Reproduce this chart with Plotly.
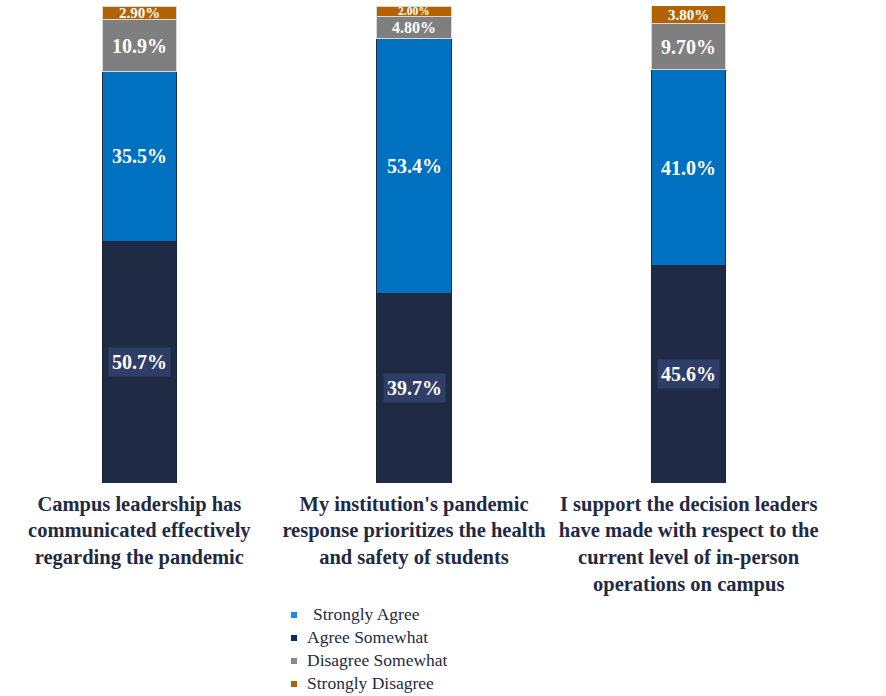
import plotly.graph_objects as go

# Survey statements (x-axis categories)
statements = [
    "Campus leadership has<br>communicated effectively<br>regarding the pandemic",
    "My institution's pandemic<br>response prioritizes the health<br>and safety of students",
    "I support the decision leaders<br>have made with respect to the<br>current level of in-person<br>operations on campus",
]

# Percentages as printed, stacked bottom to top
agree_somewhat = ["50.7", "39.7", "45.6"]
strongly_agree = ["35.5", "53.4", "41.0"]
disagree_somewhat = ["10.9", "4.80", "9.70"]
strongly_disagree = ["2.90", "2.00", "3.80"]

# Legend entries, in display order
legend_names = ["Strongly Agree", "Agree Somewhat", "Disagree Somewhat", "Strongly Disagree"]
legend_colors = ["#1e88e5", "#0d2b66", "#888888", "#b36200"]

SERIF = "Liberation Serif, Times New Roman, serif"
NAVY = "#1f2a44"

W, H = 886, 696
M = dict(l=2, r=60, t=6, b=213)
PW = W - M["l"] - M["r"]
PH = H - M["t"] - M["b"]


def px_x(px):
    return (px - M["l"]) / PW


def px_y(py):
    return (H - M["b"] - py) / PH


series = [
    ("Agree Somewhat", agree_somewhat, "#1f2a44", "#2f3e66", "#1a2235"),
    ("Strongly Agree", strongly_agree, "#0070c0", None, "#1f2a44"),
    ("Disagree Somewhat", disagree_somewhat, "#7f7f7f", None, "#d8d8d8"),
    ("Strongly Disagree", strongly_disagree, "#b36200", None, "#d8d8d8"),
]

fig = go.Figure()
annotations = []
shapes = []
base = [0.0] * len(statements)
for name, vals, color, label_bg, edge in series:
    nums = [float(v) for v in vals]
    fig.add_trace(go.Bar(
        x=list(range(len(statements))),
        y=nums,
        name=name,
        marker=dict(color=color, line=dict(color=edge, width=1)),
        showlegend=False,
        hoverinfo="skip",
    ))
    for i, (v, n) in enumerate(zip(vals, nums)):
        if n <= 2.5:
            size = 11.5
        elif n <= 4:
            size = 15
        elif n <= 6:
            size = 16
        else:
            size = 20
        annotations.append(dict(
            x=i, y=base[i] + n / 2, xref="x", yref="y",
            text=f"<b>{v}%</b>", showarrow=False,
            font=dict(family=SERIF, size=size, color="white"),
            bgcolor=label_bg, borderpad=3 if label_bg else 0,
        ))
        base[i] += n

# Legend drawn as small squares with labels
leg_y = [615, 638, 661, 684]
for k, (nm, col) in enumerate(zip(legend_names, legend_colors)):
    cy = leg_y[k]
    shapes.append(dict(
        type="rect", xref="paper", yref="paper",
        x0=px_x(291), x1=px_x(297), y0=px_y(cy - 3), y1=px_y(cy + 3),
        fillcolor=col, line=dict(width=0),
    ))
    annotations.append(dict(
        x=px_x(311 if k == 0 else 305), y=px_y(cy - 1), xref="paper", yref="paper",
        xanchor="left", yanchor="middle", text=nm, showarrow=False,
        font=dict(family=SERIF, size=17.5, color=NAVY),
    ))

fig.update_layout(
    width=W, height=H,
    margin=dict(M, autoexpand=False),
    barmode="stack", bargap=0.73,
    plot_bgcolor="white", paper_bgcolor="white",
    annotations=annotations, shapes=shapes,
    showlegend=False,
    xaxis=dict(
        tickmode="array", tickvals=list(range(len(statements))),
        ticktext=[f"<b>{s}</b>" for s in statements],
        range=[-0.5, 2.5], showgrid=False, zeroline=False, showline=False,
        ticks="outside", ticklen=2, tickcolor="rgba(0,0,0,0)", tickangle=0,
        tickfont=dict(family=SERIF, size=20.5, color=NAVY),
    ),
    yaxis=dict(range=[0, 100], visible=False),
)

fig.write_html("out.html")
